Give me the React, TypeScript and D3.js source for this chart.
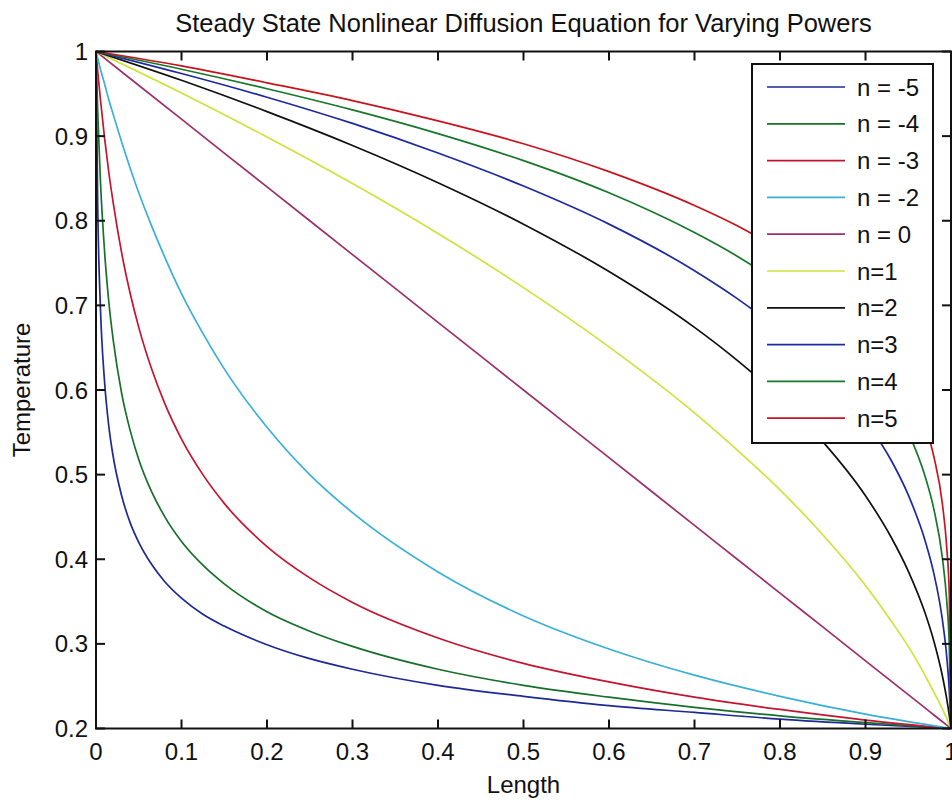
import React from 'react';
import * as d3 from 'd3';

// x grids (Length)
const xLeft = [0, 0.002, 0.005, 0.01, 0.015, 0.02, 0.03, 0.04, 0.05, 0.065, 0.08, 0.1, 0.125, 0.15, 0.2, 0.25, 0.3, 0.4, 0.5, 0.6, 0.7, 0.8, 0.9, 1];
const xRight = [0, 0.1, 0.2, 0.3, 0.4, 0.5, 0.6, 0.7, 0.75, 0.8, 0.85, 0.9, 0.93, 0.95, 0.97, 0.98, 0.99, 0.995, 0.998, 1];

// Temperature values
const nNeg5 = [1, 0.817, 0.702, 0.61, 0.557, 0.522, 0.475, 0.443, 0.42, 0.394, 0.374, 0.354, 0.335, 0.321, 0.299, 0.2825, 0.27, 0.251, 0.238, 0.227, 0.219, 0.211, 0.205, 0.2];
const nNeg4 = [1, 0.929, 0.851, 0.764, 0.704, 0.66, 0.596, 0.552, 0.518, 0.48, 0.451, 0.421, 0.393, 0.371, 0.338, 0.315, 0.297, 0.27, 0.251, 0.237, 0.225, 0.215, 0.207, 0.2];
const nNeg3 = [1, 0.977, 0.945, 0.898, 0.857, 0.822, 0.762, 0.714, 0.674, 0.625, 0.585, 0.542, 0.5, 0.466, 0.415, 0.378, 0.349, 0.307, 0.277, 0.255, 0.237, 0.2225, 0.21, 0.2];
const nNeg2 = [1, 0.992, 0.98, 0.962, 0.943, 0.926, 0.893, 0.862, 0.833, 0.794, 0.758, 0.714, 0.667, 0.625, 0.556, 0.5, 0.455, 0.385, 0.333, 0.294, 0.263, 0.238, 0.217, 0.2];
const n0 = [1, 0.92, 0.84, 0.76, 0.68, 0.6, 0.52, 0.44, 0.4, 0.36, 0.32, 0.28, 0.256, 0.24, 0.224, 0.216, 0.208, 0.204, 0.2016, 0.2];
const n1 = [1, 0.951, 0.899, 0.844, 0.785, 0.721, 0.651, 0.573, 0.529, 0.482, 0.429, 0.369, 0.327, 0.297, 0.262, 0.243, 0.223, 0.212, 0.2047, 0.2];
const n2 = [1, 0.966, 0.929, 0.889, 0.845, 0.796, 0.74, 0.674, 0.635, 0.591, 0.539, 0.475, 0.426, 0.386, 0.3355, 0.303, 0.2617, 0.2349, 0.2153, 0.2];
const n3 = [1, 0.974, 0.946, 0.915, 0.88, 0.841, 0.796, 0.741, 0.708, 0.67, 0.624, 0.564, 0.517, 0.476, 0.421, 0.383, 0.328, 0.285, 0.245, 0.2];
const n4 = [1, 0.979, 0.956, 0.931, 0.903, 0.871, 0.833, 0.786, 0.758, 0.725, 0.685, 0.631, 0.588, 0.55, 0.497, 0.459, 0.401, 0.351, 0.297, 0.2];
const n5 = [1, 0.983, 0.963, 0.942, 0.918, 0.891, 0.858, 0.818, 0.794, 0.765, 0.729, 0.681, 0.642, 0.607, 0.558, 0.521, 0.465, 0.414, 0.359, 0.2];

const seriesLabels = ['n = -5', 'n = -4', 'n = -3', 'n = -2', 'n = 0', 'n=1', 'n=2', 'n=3', 'n=4', 'n=5'];
const seriesValues = [nNeg5, nNeg4, nNeg3, nNeg2, n0, n1, n2, n3, n4, n5];
const seriesX = [xLeft, xLeft, xLeft, xLeft, xRight, xRight, xRight, xRight, xRight, xRight];
const seriesColors = ['#1d2a96', '#17702a', '#c41430', '#3ab0d6', '#9c2f6c', '#cfe23c', '#111111', '#1d2a9e', '#17782a', '#c8141f'];

const xTicks = [0, 0.1, 0.2, 0.3, 0.4, 0.5, 0.6, 0.7, 0.8, 0.9, 1];
const yTicks = [0.2, 0.3, 0.4, 0.5, 0.6, 0.7, 0.8, 0.9, 1];

const W = 952;
const H = 801;
const left = 96;
const right = 951;
const top = 51.5;
const bottom = 728.5;
const font = "'Liberation Sans', Arial, Helvetica, sans-serif";

export default function App() {
  const x = d3.scaleLinear().domain([0, 1]).range([left, right]);
  const y = d3.scaleLinear().domain([0.2, 1]).range([bottom, top]);
  const line = d3
    .line<[number, number]>()
    .x((d) => x(d[0]))
    .y((d) => y(d[1]))
    .curve(d3.curveMonotoneX);

  const tickLen = 9;
  const legX = 752;
  const legY = 64;
  const legW = 181;
  const legH = 379;
  const rowY0 = 87;
  const rowDy = 36.8;

  return (
    <svg
      width={W}
      height={H}
      style={{ position: 'absolute', left: 0, top: 0, background: '#fff' }}
      fontFamily={font}
    >
      <rect x={0} y={0} width={W} height={H} fill="#fff" />
      <defs>
        <clipPath id="plotClip">
          <rect x={left} y={top - 1} width={right - left + 1} height={bottom - top + 2} />
        </clipPath>
      </defs>

      {/* title */}
      <text x={523.5} y={32} fontSize={25.5} textAnchor="middle" fill="#111">
        Steady State Nonlinear Diffusion Equation for Varying Powers
      </text>

      {/* curves */}
      <g clipPath="url(#plotClip)">
        {seriesValues.map((vals, i) => {
          const pts = vals.map((v, j) => [seriesX[i][j], v] as [number, number]);
          return (
            <path
              key={i}
              d={line(pts) || ''}
              fill="none"
              stroke={seriesColors[i]}
              strokeWidth={1.7}
              strokeLinejoin="round"
            />
          );
        })}
      </g>

      {/* axes box */}
      <rect x={left} y={top} width={right - left} height={bottom - top} fill="none" stroke="#111" strokeWidth={2} />

      {/* x ticks */}
      {xTicks.map((t) => (
        <g key={'xt' + t}>
          <line x1={x(t)} x2={x(t)} y1={bottom} y2={bottom - tickLen} stroke="#111" strokeWidth={2} />
          <line x1={x(t)} x2={x(t)} y1={top} y2={top + tickLen} stroke="#111" strokeWidth={2} />
          <text x={x(t)} y={760} fontSize={24} textAnchor="middle" fill="#111">
            {d3.format('~g')(t)}
          </text>
        </g>
      ))}

      {/* y ticks */}
      {yTicks.map((t) => (
        <g key={'yt' + t}>
          <line x1={left} x2={left + tickLen} y1={y(t)} y2={y(t)} stroke="#111" strokeWidth={2} />
          <line x1={right} x2={right - tickLen} y1={y(t)} y2={y(t)} stroke="#111" strokeWidth={2} />
          <text x={88} y={y(t) + 8.5} fontSize={24} textAnchor="end" fill="#111">
            {d3.format('~g')(t)}
          </text>
        </g>
      ))}

      {/* axis labels */}
      <text x={523.5} y={793} fontSize={24} textAnchor="middle" fill="#111">
        Length
      </text>
      <text transform="translate(30,390) rotate(-90)" fontSize={24} textAnchor="middle" fill="#111">
        Temperature
      </text>

      {/* legend */}
      <rect x={legX} y={legY} width={legW} height={legH} fill="#fff" stroke="#111" strokeWidth={2} />
      {seriesLabels.map((lab, i) => {
        const ry = rowY0 + i * rowDy;
        return (
          <g key={'leg' + i}>
            <line x1={767} x2={845} y1={ry} y2={ry} stroke={seriesColors[i]} strokeWidth={1.7} />
            <text x={857} y={ry + 8.5} fontSize={24} fill="#111">
              {lab}
            </text>
          </g>
        );
      })}
    </svg>
  );
}
